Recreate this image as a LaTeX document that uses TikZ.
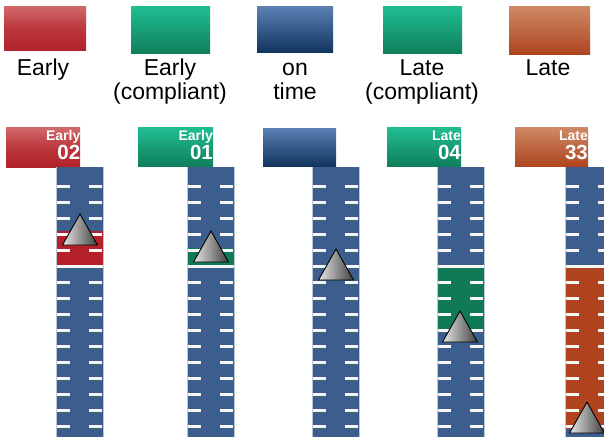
\documentclass[tikz,border=0pt]{standalone}
\usepackage{fontspec}
\setmainfont{Liberation Sans}
\definecolor{colblue}{HTML}{3B5E8D}
\definecolor{bandred}{HTML}{B5202B}
\definecolor{bandgreen}{HTML}{0F7A55}
\definecolor{bandorange}{HTML}{B0441F}
\definecolor{redtop}{HTML}{D26A6A}
\definecolor{redbot}{HTML}{B2222A}
\definecolor{greentop}{HTML}{20BE92}
\definecolor{greenbot}{HTML}{0F7F5C}
\definecolor{bluetop}{HTML}{5B80B4}
\definecolor{bluebot}{HTML}{12355F}
\definecolor{orangetop}{HTML}{CE8A66}
\definecolor{orangebot}{HTML}{AF4520}
\definecolor{colborder}{HTML}{B9C6D6}
\tikzset{
  gred/.style={top color=redtop, bottom color=redbot, middle color=redbot!70!redtop},
  ggreen/.style={top color=greentop, bottom color=greenbot},
  gblue/.style={top color=bluetop, bottom color=bluebot},
  gorange/.style={top color=orangetop, bottom color=orangebot},
  leg/.style={font=\fontsize{23}{23}\selectfont, inner sep=0pt, anchor=base},
  tabsmall/.style={font=\bfseries\fontsize{14}{14}\selectfont, text=white, inner sep=0pt, anchor=base east},
  tabbig/.style={font=\bfseries\fontsize{20.5}{20.5}\selectfont, text=white, inner sep=0pt, anchor=base east},
  tick/.style={draw=white!94!gray, line width=3pt},
  fullline/.style={draw=white!94!gray, line width=3pt},
  marker/.style={draw=black, line width=0.9pt, left color=gray!20, right color=black!75, line join=miter},
}
% #1 column left x, #2 band colour, #3 band top, #4 band bottom
\newcommand{\gaugecol}[4]{%
  \fill[colblue] (#1,167) rectangle ++(47,270);
  \fill[#2] (#1,#3) rectangle (#1+47,#4);
  \foreach \yy in {186,202,...,426}{
    \draw[tick] (#1+1,\yy) -- ++(13,0);
    \draw[tick] (#1+33,\yy) -- ++(13,0);
  }
  \draw[fullline] (#1,266) -- ++(47,0);
  \draw[colborder, line width=0.8pt] (#1,167) -- (#1,437) (#1+47,167) -- (#1+47,437);
}
% #1 centre x, #2 apex y
\newcommand{\gaugemark}[2]{%
  \draw[marker] (#1,#2) -- (#1+17.5,#2+31) -- (#1-17.5,#2+31) -- cycle;
}
\begin{document}
\begin{tikzpicture}[x=1pt,y=-1pt]
\useasboundingbox (0,0) rectangle (604,437);
\clip (0,0) rectangle (604,437);

% legend
\path[gred] (4,6) rectangle (86,50);
\path[ggreen] (131,6) rectangle (210,53);
\path[gblue] (257,6) rectangle (333,52);
\path[ggreen] (383,6) rectangle (462,53);
\path[gorange] (509,6) rectangle (590,54);

\node[leg] (l1) at (43,75) {Early};
\node[leg] (l2a) at (170,75) {Early};
\node[leg] (l2b) at (170,99) {(compliant)};
\node[leg] (l3a) at (295,75) {on};
\node[leg] (l3b) at (295,99) {time};
\node[leg] (l4a) at (422,75) {Late};
\node[leg] (l4b) at (422,99) {(compliant)};
\node[leg] (l5) at (548,75) {Late};

% tabs
\path[gred] (6,127) rectangle (80,167);
\path[ggreen] (138,127) rectangle (213,166);
\path[gblue] (263,128) rectangle (336,166);
\path[ggreen] (387,127) rectangle (461,166);
\path[gorange] (515,127) rectangle (588,166);

\node[tabsmall] (t1a) at (80.5,140) {Early};
\node[tabbig] (t1b) at (80.5,159.5) {02};
\node[tabsmall] (t2a) at (213,140) {Early};
\node[tabbig] (t2b) at (213,159.5) {01};
\node[tabsmall] (t4a) at (461,140) {Late};
\node[tabbig] (t4b) at (461,159.5) {04};
\node[tabsmall] (t5a) at (588,140) {Late};
\node[tabbig] (t5b) at (588,159.5) {33};

% columns
\gaugecol{56}{bandred}{231}{265}
\gaugecol{187}{bandgreen}{248}{265}
\gaugecol{312}{colblue}{266}{266}
\gaugecol{437}{bandgreen}{266}{332}
\gaugecol{565}{bandorange}{266}{429}

% markers
\gaugemark{80}{214}
\gaugemark{211}{231}
\gaugemark{336}{249}
\gaugemark{460}{311}
\gaugemark{587}{402}
\end{tikzpicture}
\end{document}
